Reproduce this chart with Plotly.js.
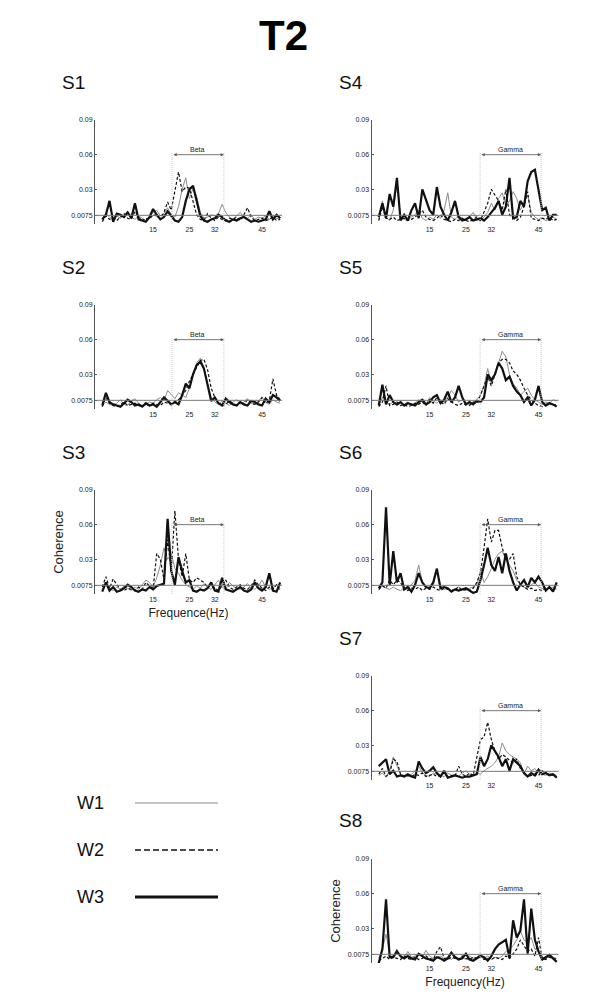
<!DOCTYPE html>
<html>
<head>
<meta charset="utf-8">
<script src="https://cdn.plot.ly/plotly-3.0.1.min.js"></script>
<style>
  body { margin: 0; background: #fff; }
  #chart { width: 600px; height: 1004px; }
</style>
</head>
<body>
<div id="chart"></div>
<script>
// frequency bins (Hz)
var freq = [1,2,3,4,5,6,7,8,9,10,11,12,13,14,15,16,17,18,19,20,21,22,23,24,25,
            26,27,28,29,30,31,32,33,34,35,36,37,38,39,40,41,42,43,44,45,46,47,48,49,50];

var xTicks = [15, 25, 32, 45];
var yTicks = [0.0075, 0.03, 0.06, 0.09];
var yTickText = ["0.0075", "0.03", "0.06", "0.09"];
var threshold = 0.0075;

var betaBand = [20.2, 34.5];
var gammaBand = [28.9, 45.7];

var seriesNames = ["W1", "W2", "W3"];

// S1
var s1W1 = [0.004,0.009,0.006,0.003,0.007,0.005,0.008,0.011,0.006,0.004,0.007,0.005,0.003,0.006,0.010,0.012,0.007,0.009,0.014,0.008,0.006,0.015,0.030,0.040,0.022,0.031,0.024,0.010,0.005,0.006,0.008,0.007,0.009,0.017,0.010,0.006,0.004,0.007,0.010,0.006,0.005,0.008,0.004,0.006,0.005,0.007,0.004,0.006,0.005,0.004];
var s1W2 = [0.002,0.007,0.004,0.005,0.003,0.006,0.009,0.005,0.004,0.011,0.006,0.003,0.005,0.004,0.008,0.007,0.005,0.010,0.019,0.012,0.030,0.045,0.028,0.032,0.031,0.020,0.008,0.004,0.003,0.009,0.005,0.003,0.006,0.004,0.003,0.005,0.004,0.006,0.003,0.008,0.014,0.006,0.003,0.004,0.005,0.003,0.004,0.006,0.003,0.004];
var s1W3 = [0.004,0.008,0.020,0.002,0.009,0.008,0.006,0.010,0.005,0.018,0.004,0.003,0.002,0.006,0.013,0.008,0.004,0.006,0.011,0.007,0.003,0.002,0.006,0.020,0.030,0.033,0.020,0.007,0.003,0.002,0.004,0.005,0.008,0.006,0.003,0.002,0.004,0.003,0.005,0.006,0.004,0.002,0.003,0.002,0.003,0.004,0.011,0.004,0.008,0.005];

// S2
var s2W1 = [0.003,0.006,0.004,0.003,0.005,0.008,0.004,0.003,0.007,0.009,0.005,0.003,0.004,0.006,0.005,0.008,0.010,0.007,0.016,0.012,0.009,0.014,0.012,0.010,0.018,0.030,0.040,0.044,0.036,0.022,0.010,0.006,0.004,0.007,0.005,0.003,0.006,0.008,0.004,0.006,0.009,0.005,0.004,0.007,0.010,0.006,0.004,0.008,0.006,0.005];
var s2W2 = [0.002,0.010,0.005,0.003,0.002,0.004,0.006,0.003,0.004,0.005,0.003,0.002,0.004,0.003,0.005,0.004,0.003,0.006,0.005,0.004,0.006,0.008,0.012,0.016,0.024,0.030,0.036,0.042,0.043,0.034,0.018,0.010,0.005,0.003,0.004,0.007,0.005,0.003,0.006,0.004,0.008,0.005,0.004,0.006,0.010,0.005,0.007,0.026,0.012,0.008];
var s2W3 = [0.003,0.014,0.006,0.004,0.003,0.002,0.005,0.008,0.006,0.003,0.004,0.002,0.005,0.003,0.004,0.002,0.006,0.010,0.007,0.004,0.006,0.004,0.012,0.022,0.018,0.030,0.038,0.041,0.035,0.020,0.007,0.010,0.005,0.003,0.009,0.006,0.004,0.003,0.006,0.004,0.003,0.007,0.006,0.004,0.003,0.009,0.006,0.012,0.010,0.007];

// S3
var s3W1 = [0.004,0.008,0.005,0.003,0.006,0.004,0.007,0.005,0.003,0.006,0.004,0.008,0.012,0.010,0.006,0.014,0.025,0.040,0.030,0.035,0.022,0.018,0.012,0.008,0.006,0.004,0.007,0.005,0.009,0.006,0.004,0.008,0.012,0.006,0.004,0.010,0.007,0.005,0.004,0.006,0.009,0.005,0.004,0.007,0.012,0.006,0.004,0.005,0.008,0.005];
var s3W2 = [0.006,0.015,0.005,0.013,0.008,0.004,0.003,0.005,0.004,0.003,0.006,0.004,0.010,0.007,0.005,0.035,0.030,0.012,0.047,0.020,0.072,0.030,0.015,0.035,0.012,0.010,0.014,0.012,0.010,0.006,0.008,0.005,0.003,0.007,0.012,0.006,0.004,0.006,0.008,0.005,0.004,0.007,0.012,0.008,0.005,0.003,0.006,0.004,0.008,0.003];
var s3W3 = [0.002,0.010,0.003,0.006,0.002,0.003,0.005,0.008,0.006,0.003,0.002,0.004,0.003,0.006,0.004,0.007,0.008,0.009,0.065,0.020,0.008,0.032,0.020,0.010,0.012,0.003,0.002,0.004,0.003,0.005,0.010,0.003,0.002,0.014,0.004,0.003,0.002,0.004,0.006,0.003,0.002,0.004,0.010,0.005,0.003,0.006,0.018,0.003,0.002,0.010];

// S4
var s4W1 = [0.004,0.020,0.006,0.003,0.012,0.035,0.006,0.004,0.003,0.006,0.008,0.012,0.005,0.003,0.006,0.004,0.008,0.005,0.012,0.027,0.006,0.004,0.007,0.005,0.003,0.006,0.010,0.004,0.003,0.006,0.010,0.018,0.012,0.022,0.027,0.015,0.020,0.028,0.022,0.012,0.018,0.025,0.010,0.006,0.004,0.005,0.003,0.004,0.006,0.004];
var s4W2 = [0.003,0.015,0.005,0.004,0.006,0.003,0.004,0.005,0.003,0.004,0.006,0.009,0.012,0.006,0.004,0.003,0.005,0.008,0.004,0.003,0.002,0.004,0.003,0.005,0.003,0.002,0.004,0.006,0.003,0.010,0.018,0.030,0.025,0.020,0.012,0.030,0.008,0.005,0.003,0.006,0.015,0.028,0.005,0.004,0.003,0.005,0.004,0.006,0.003,0.004];
var s4W3 = [0.006,0.018,0.005,0.026,0.015,0.040,0.003,0.008,0.003,0.012,0.018,0.005,0.030,0.020,0.012,0.008,0.032,0.015,0.008,0.003,0.010,0.020,0.006,0.003,0.004,0.006,0.003,0.004,0.005,0.003,0.006,0.010,0.014,0.020,0.008,0.015,0.040,0.005,0.006,0.020,0.015,0.037,0.045,0.047,0.030,0.012,0.014,0.003,0.008,0.008];

// S5
var s5W1 = [0.003,0.010,0.005,0.004,0.006,0.003,0.005,0.004,0.006,0.003,0.005,0.008,0.006,0.004,0.010,0.007,0.005,0.008,0.006,0.010,0.016,0.012,0.006,0.008,0.005,0.004,0.006,0.008,0.012,0.020,0.035,0.022,0.030,0.040,0.050,0.045,0.030,0.022,0.018,0.012,0.015,0.018,0.012,0.008,0.006,0.004,0.006,0.005,0.008,0.007];
var s5W2 = [0.002,0.006,0.020,0.003,0.004,0.006,0.003,0.004,0.002,0.003,0.005,0.004,0.006,0.003,0.008,0.005,0.010,0.006,0.004,0.009,0.006,0.004,0.003,0.005,0.004,0.003,0.006,0.005,0.012,0.020,0.028,0.020,0.030,0.040,0.043,0.043,0.040,0.033,0.030,0.025,0.018,0.012,0.008,0.005,0.003,0.002,0.004,0.005,0.003,0.004];
var s5W3 = [0.003,0.021,0.004,0.012,0.006,0.004,0.006,0.003,0.005,0.004,0.003,0.006,0.008,0.004,0.006,0.010,0.012,0.005,0.008,0.015,0.006,0.010,0.020,0.010,0.004,0.006,0.004,0.007,0.006,0.010,0.030,0.025,0.030,0.040,0.035,0.025,0.028,0.020,0.015,0.012,0.006,0.010,0.003,0.008,0.020,0.006,0.003,0.005,0.004,0.002];

// S6
var s6W1 = [0.003,0.008,0.005,0.004,0.006,0.004,0.003,0.005,0.004,0.008,0.012,0.025,0.010,0.006,0.005,0.008,0.020,0.007,0.004,0.005,0.003,0.004,0.006,0.004,0.003,0.005,0.006,0.008,0.020,0.010,0.015,0.022,0.030,0.035,0.037,0.030,0.025,0.020,0.012,0.008,0.006,0.005,0.008,0.010,0.006,0.005,0.004,0.005,0.006,0.004];
var s6W2 = [0.004,0.007,0.005,0.012,0.008,0.012,0.010,0.004,0.003,0.005,0.004,0.006,0.003,0.005,0.004,0.006,0.004,0.003,0.005,0.004,0.003,0.004,0.006,0.003,0.004,0.003,0.005,0.010,0.018,0.040,0.065,0.045,0.055,0.055,0.040,0.030,0.030,0.035,0.015,0.008,0.006,0.004,0.005,0.003,0.004,0.003,0.005,0.006,0.004,0.004];
var s6W3 = [0.005,0.010,0.075,0.008,0.037,0.010,0.018,0.004,0.006,0.002,0.008,0.018,0.010,0.006,0.005,0.010,0.022,0.005,0.006,0.005,0.002,0.004,0.003,0.004,0.005,0.003,0.001,0.002,0.012,0.025,0.040,0.025,0.020,0.032,0.018,0.035,0.020,0.010,0.003,0.008,0.012,0.006,0.014,0.010,0.015,0.010,0.003,0.006,0.002,0.010];

// S7
var s7W1 = [0.004,0.006,0.003,0.008,0.020,0.012,0.005,0.004,0.003,0.005,0.008,0.012,0.006,0.004,0.003,0.006,0.005,0.004,0.003,0.006,0.004,0.005,0.003,0.006,0.008,0.005,0.004,0.006,0.005,0.008,0.010,0.012,0.015,0.020,0.032,0.025,0.022,0.020,0.018,0.015,0.005,0.012,0.008,0.010,0.006,0.005,0.004,0.006,0.005,0.004];
var s7W2 = [0.005,0.010,0.003,0.006,0.018,0.016,0.005,0.003,0.004,0.003,0.005,0.004,0.006,0.003,0.004,0.005,0.003,0.004,0.006,0.003,0.004,0.003,0.012,0.005,0.003,0.006,0.004,0.020,0.035,0.037,0.050,0.035,0.025,0.018,0.022,0.020,0.017,0.015,0.018,0.010,0.006,0.003,0.004,0.005,0.004,0.008,0.006,0.005,0.004,0.003];
var s7W3 = [0.012,0.015,0.018,0.005,0.008,0.003,0.004,0.003,0.005,0.003,0.002,0.016,0.010,0.006,0.008,0.011,0.006,0.003,0.008,0.002,0.003,0.004,0.003,0.002,0.003,0.003,0.004,0.005,0.020,0.012,0.018,0.030,0.025,0.020,0.012,0.018,0.008,0.018,0.015,0.012,0.006,0.003,0.006,0.004,0.009,0.005,0.006,0.004,0.005,0.002];

// S8
var s8W1 = [0.004,0.012,0.025,0.008,0.006,0.012,0.005,0.004,0.010,0.005,0.006,0.008,0.005,0.011,0.006,0.004,0.005,0.006,0.004,0.005,0.003,0.006,0.004,0.005,0.003,0.006,0.004,0.005,0.008,0.004,0.006,0.003,0.005,0.004,0.006,0.010,0.012,0.015,0.020,0.028,0.020,0.018,0.022,0.012,0.010,0.005,0.004,0.006,0.005,0.004];
var s8W2 = [0.002,0.004,0.006,0.003,0.005,0.004,0.003,0.006,0.004,0.003,0.005,0.003,0.004,0.006,0.004,0.003,0.010,0.014,0.004,0.003,0.005,0.004,0.003,0.006,0.004,0.003,0.005,0.004,0.006,0.003,0.004,0.003,0.005,0.004,0.003,0.006,0.004,0.008,0.012,0.020,0.015,0.010,0.012,0.006,0.022,0.004,0.003,0.005,0.004,0.003];
var s8W3 = [0.000,0.012,0.055,0.005,0.005,0.010,0.006,0.004,0.006,0.004,0.003,0.008,0.006,0.004,0.003,0.002,0.005,0.004,0.002,0.004,0.009,0.005,0.003,0.004,0.008,0.003,0.002,0.004,0.006,0.005,0.002,0.006,0.012,0.016,0.018,0.020,0.004,0.037,0.022,0.028,0.055,0.008,0.047,0.020,0.010,0.003,0.005,0.007,0.004,0.001];

// panel setup: name, data, band, band label, column, row
var panels = [
  {name: "S1", data: [s1W1, s1W2, s1W3], band: betaBand,  label: "Beta",  col: 0, row: 0},
  {name: "S2", data: [s2W1, s2W2, s2W3], band: betaBand,  label: "Beta",  col: 0, row: 1},
  {name: "S3", data: [s3W1, s3W2, s3W3], band: betaBand,  label: "Beta",  col: 0, row: 2, xTitle: "Frequence(Hz)", yTitle: "Coherence"},
  {name: "S4", data: [s4W1, s4W2, s4W3], band: gammaBand, label: "Gamma", col: 1, row: 0},
  {name: "S5", data: [s5W1, s5W2, s5W3], band: gammaBand, label: "Gamma", col: 1, row: 1},
  {name: "S6", data: [s6W1, s6W2, s6W3], band: gammaBand, label: "Gamma", col: 1, row: 2},
  {name: "S7", data: [s7W1, s7W2, s7W3], band: gammaBand, label: "Gamma", col: 1, row: 3},
  {name: "S8", data: [s8W1, s8W2, s8W3], band: gammaBand, label: "Gamma", col: 1, row: 4, xTitle: "Frequency(Hz)", yTitle: "Coherence"}
];

var W = 600, H = 1004;
var colX = [[95, 282], [371.5, 558.5]];
var rowY = [[120, 224], [305, 409], [490, 594], [676, 780], [859, 963]];

var lineStyles = [
  {color: "#8c8c8c", width: 1},
  {color: "#111", width: 1.2, dash: "3px,2px"},
  {color: "#111", width: 2.2}
];

var font = "Arial, 'Liberation Sans', sans-serif";
var traces = [];
var shapes = [];
var annotations = [];
var layout = {
  width: W, height: H, autosize: false,
  margin: {l: 0, r: 0, t: 0, b: 0},
  paper_bgcolor: "#fff", plot_bgcolor: "#fff",
  showlegend: false,
  font: {family: font, color: "#222"}
};

panels.forEach(function(p, i) {
  var n = i + 1;
  var xa = "x" + (n === 1 ? "" : n), ya = "y" + (n === 1 ? "" : n);
  var xk = "xaxis" + (n === 1 ? "" : n), yk = "yaxis" + (n === 1 ? "" : n);
  var cx = colX[p.col], ry = rowY[p.row];

  p.data.forEach(function(vals, k) {
    traces.push({
      x: freq, y: vals, type: "scatter", mode: "lines",
      name: seriesNames[k], xaxis: xa, yaxis: ya,
      line: lineStyles[k], hoverinfo: "skip"
    });
  });

  layout[xk] = {
    domain: [cx[0] / W, cx[1] / W], anchor: ya,
    range: [-1, 50.5], showgrid: false, zeroline: false, showline: false,
    tickvals: xTicks, ticks: "", tickfont: {size: 7, color: "#222"},
    title: p.xTitle ? {text: p.xTitle, font: {size: 12, color: "#222"}, standoff: 6} : {text: ""}
  };
  layout[yk] = {
    domain: [(H - ry[1]) / H, (H - ry[0]) / H], anchor: xa,
    range: [0, 0.09], showgrid: false, zeroline: false,
    showline: true, linecolor: "#555", linewidth: 1,
    ticks: "inside", ticklen: 2, tickcolor: "#555",
    tickvals: yTicks, ticktext: yTickText, tickfont: {size: 7, color: "#222"},
    title: p.yTitle ? {text: p.yTitle, font: {size: 13, color: "#222"}, standoff: 4} : {text: ""}
  };

  // threshold line
  shapes.push({type: "line", xref: xa + " domain", yref: ya, x0: 0, x1: 1,
    y0: threshold, y1: threshold, line: {color: "#777", width: 1}});
  // band edges
  p.band.forEach(function(b) {
    shapes.push({type: "line", xref: xa, yref: ya, x0: b, x1: b, y0: 0, y1: 0.062,
      line: {color: "#c8c8c8", width: 1, dash: "1px,1px"}});
  });
  // band arrow
  annotations.push({xref: xa, yref: ya, axref: xa, ayref: ya,
    x: p.band[1], y: 0.06, ax: p.band[0], ay: 0.06, text: "",
    showarrow: true, arrowside: "end+start", arrowhead: 2, arrowsize: 0.8,
    arrowwidth: 0.8, arrowcolor: "#555"});
  annotations.push({xref: xa, yref: ya, x: (p.band[0] + p.band[1]) / 2, y: 0.06,
    yanchor: "bottom", yshift: 0, text: p.label, showarrow: false,
    font: {size: 7, color: "#222"}});
  // panel label
  annotations.push({xref: "paper", yref: "paper", x: (cx[0] - 35) / W, y: (H - ry[0] + 38) / H,
    xanchor: "left", yanchor: "middle", text: p.name, showarrow: false,
    font: {size: 19, color: "#111"}});
});

// figure title
annotations.push({xref: "paper", yref: "paper", x: 283 / W, y: (H - 36) / H,
  xanchor: "center", yanchor: "middle", text: "<b>T2</b>", showarrow: false,
  font: {size: 42, color: "#000"}});

// key (W1/W2/W3) in the empty lower-left corner
var keyY = [803, 850, 897];
var keyDash = ["solid", "6px,3px", "solid"];
var keyWidth = [1, 1.5, 3];
seriesNames.forEach(function(nm, k) {
  annotations.push({xref: "paper", yref: "paper", x: 75 / W, y: (H - keyY[k]) / H,
    xanchor: "left", yanchor: "middle", text: nm, showarrow: false,
    font: {size: 18, color: "#111"}});
  shapes.push({type: "line", xref: "paper", yref: "paper",
    x0: 135 / W, x1: 218 / W, y0: (H - keyY[k]) / H, y1: (H - keyY[k]) / H,
    line: {color: lineStyles[k].color, width: keyWidth[k], dash: keyDash[k]}});
});

layout.shapes = shapes;
layout.annotations = annotations;

Plotly.newPlot("chart", traces, layout, {staticPlot: true});
</script>
</body>
</html>
